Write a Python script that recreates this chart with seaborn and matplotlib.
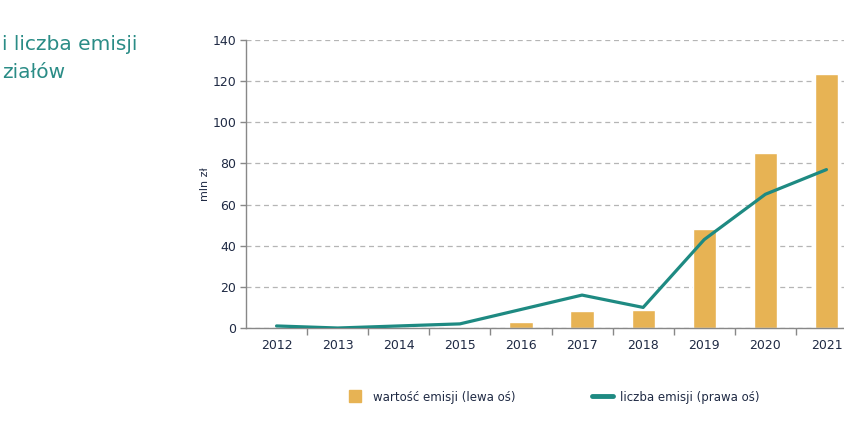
import numpy as np
import pandas as pd
import seaborn as sns
import matplotlib.pyplot as plt
from matplotlib.lines import Line2D

# data
years = ['2012', '2013', '2014', '2015', '2016', '2017', '2018', '2019', '2020', '2021']
issue_value = [0, 0, 0, 0.5, 2.7, 8.2, 8.8, 48, 85, 123.5]   # mln zl (left axis)
issue_count = [1, 0, 1, 2, 9, 16, 10, 43, 65, 77]            # number of issues (right axis)

bar_color = '#E7B354'
line_color = '#1E8A82'
text_color = '#1F2A44'

df = pd.DataFrame({'rok': years, 'wartosc': issue_value, 'liczba': issue_count})

sns.set_style('white')
plt.rcParams['font.family'] = ['DejaVu Sans']

fig = plt.figure(figsize=(8.45, 4.44), dpi=100)
# axes runs past the right edge, the right axis is cut off in the original
ax = fig.add_axes([246 / 845, 1 - 328 / 444, 611 / 845, 288 / 444])

sns.barplot(data=df, x='rok', y='wartosc', color=bar_color, width=0.38,
            saturation=1, ax=ax, zorder=2)
sns.lineplot(x=np.arange(len(years)), y=df['liczba'], color=line_color,
             linewidth=2.3, ax=ax, zorder=3)

ax.set_ylim(0, 140)
ax.set_xlim(-0.5, len(years) - 0.5)
ax.set_yticks(range(0, 141, 20))
ax.yaxis.grid(True, linestyle=(0, (4, 3)), color='#B5B5B5', linewidth=0.9)
ax.set_axisbelow(True)

# x ticks between categories, labels centred on bars
ax.set_xticks(np.arange(len(years)))
ax.set_xticklabels(years)
ax.tick_params(axis='x', which='major', bottom=False, length=0, pad=8,
               labelsize=9, labelcolor=text_color)
ax.set_xticks(np.arange(len(years) - 1) + 0.5, minor=True)
ax.tick_params(axis='x', which='minor', bottom=True, length=5, width=1,
               color='#888888', direction='out')
ax.tick_params(axis='y', left=True, length=4, width=1, color='#888888',
               labelsize=9, labelcolor=text_color, pad=3)

for s in ['top', 'right']:
    ax.spines[s].set_visible(False)
for s in ['left', 'bottom']:
    ax.spines[s].set_color('#888888')
    ax.spines[s].set_linewidth(1)

ax.set_xlabel('')
ax.set_ylabel('mln zł', fontsize=8, color=text_color, labelpad=2)

# title fragment visible at the left edge
fig.text(0.002, 1 - 50 / 444, 'i liczba emisji', fontsize=14.5, color='#2A8C86')
fig.text(0.002, 1 - 78 / 444, 'ziałów', fontsize=14.5, color='#2A8C86')

handles = [Line2D([0], [0], marker='s', markersize=8, linestyle='none',
                  color=bar_color),
           Line2D([0], [0], color=line_color, linewidth=3.5)]
fig.legend(handles, ['wartość emisji (lewa oś)', 'liczba emisji (prawa oś)'],
           loc='center', bbox_to_anchor=(552 / 845, 1 - 397 / 444), ncol=2,
           frameon=False, fontsize=8.5, handlelength=1.8,
           columnspacing=6.5, handletextpad=0.6, labelcolor=text_color)

fig.savefig('out.png', dpi=100)
